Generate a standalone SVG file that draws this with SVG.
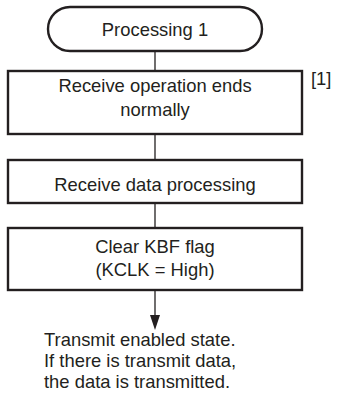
<svg xmlns="http://www.w3.org/2000/svg" width="345" height="396" viewBox="0 0 345 396">
<style>
.shape{fill:#fff;stroke:#231f20;stroke-width:2.4}
.t{font-family:"Liberation Sans",Arial,sans-serif;font-size:18.4px;fill:#231f20}
.c{text-anchor:middle}
.ln{stroke:#231f20;stroke-width:1.3;fill:none}
</style>
<g id="connectors">
<line class="ln" x1="155" y1="51" x2="155" y2="71"/>
<line class="ln" x1="155" y1="134" x2="155" y2="160"/>
<line class="ln" x1="155" y1="203" x2="155" y2="228"/>
<line class="ln" x1="155" y1="290" x2="155" y2="315"/>
<path d="M150,315 L160,315 L155,330 Z" fill="#231f20"/>
</g>
<g id="start">
<rect class="shape" x="48" y="7" width="214" height="44" rx="22" ry="22"/>
<text class="t c" x="155" y="36">Processing 1</text>
</g>
<g id="step1">
<rect class="shape" x="8" y="71" width="294" height="63"/>
<text class="t c" x="155" y="92">Receive operation ends</text>
<text class="t c" x="155" y="116">normally</text>
<text class="t" x="311" y="85">[1]</text>
</g>
<g id="step2">
<rect class="shape" x="8" y="160" width="294" height="43"/>
<text class="t c" x="155" y="191">Receive data processing</text>
</g>
<g id="step3">
<rect class="shape" x="8" y="228" width="294" height="62"/>
<text class="t c" x="155" y="253">Clear KBF flag</text>
<text class="t c" x="155" y="276">(KCLK = High)</text>
</g>
<g id="end-note">
<text class="t" x="44" y="346">Transmit enabled state.</text>
<text class="t" x="44" y="367">If there is transmit data,</text>
<text class="t" x="44" y="388">the data is transmitted.</text>
</g>
</svg>
